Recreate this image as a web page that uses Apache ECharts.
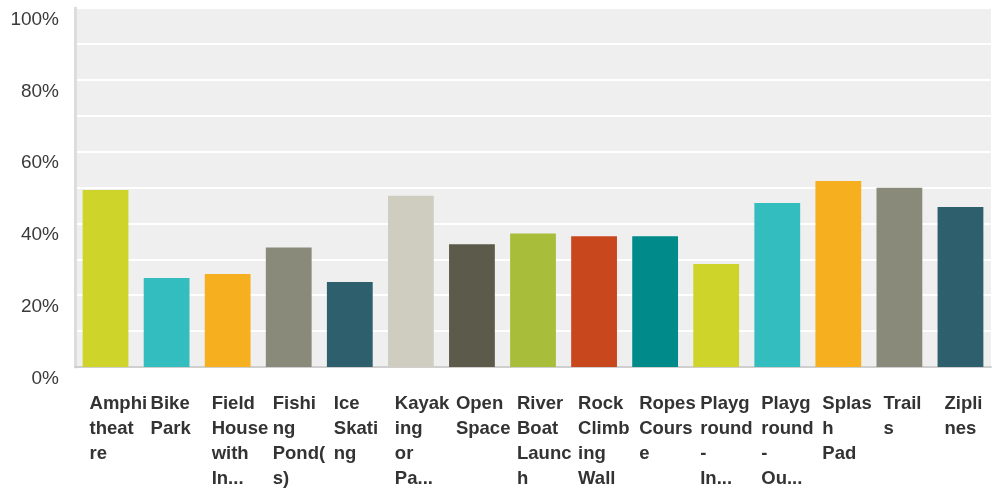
<!DOCTYPE html>
<html>
<head>
<meta charset="utf-8">
<script src="https://cdn.jsdelivr.net/npm/echarts@6/dist/echarts.min.js"></script>
<style>
  html, body { margin: 0; padding: 0; background: #fff; }
  #main { width: 992px; height: 491px; }
</style>
</head>
<body>
<div id="main"></div>
<script>
// categories as shown on the chart (long ones are cut off in the source)
var categories = [
  "Amphitheatre", "Bike Park", "Field House with In...", "Fishing Pond(s)",
  "Ice Skating", "Kayaking or Pa...", "Open Space", "River Boat Launch",
  "Rock Climbing Wall", "Ropes Course", "Playground - In...", "Playground - Ou...",
  "Splash Pad", "Trails", "Ziplines"
];
// tick labels, wrapped the way the source wraps them
var tickLabels = [
  "Amphi\ntheat\nre", "Bike\nPark", "Field\nHouse\nwith\nIn...", "Fishi\nng\nPond(\ns)",
  "Ice\nSkati\nng", "Kayak\ning\nor\nPa...", "Open\nSpace", "River\nBoat\nLaunc\nh",
  "Rock\nClimb\ning\nWall", "Ropes\nCours\ne", "Playg\nround\n-\nIn...", "Playg\nround\n-\nOu...",
  "Splas\nh\nPad", "Trail\ns", "Zipli\nnes"
];
var percents = [49.3, 24.8, 25.9, 33.3, 23.7, 47.7, 34.2, 37.2, 36.4, 36.4, 28.7, 45.7, 51.8, 49.9, 44.6];
var barColors = [
  "#cfd42a", "#33bdbf", "#f6af1f", "#8a8a7a", "#2e5f6d",
  "#cfcdc0", "#5c5a4b", "#a8bd3a", "#c8471d", "#008a8a",
  "#cfd42a", "#33bdbf", "#f6af1f", "#8a8a7a", "#2e5f6d"
];

var chart = echarts.init(document.getElementById("main"));
var option = {
  animation: false,
  grid: {
    left: 75,
    right: 1,
    top: 8,
    bottom: 120,
    show: true,
    backgroundColor: "#efefef",
    borderWidth: 0
  },
  xAxis: {
    type: "category",
    data: categories,
    axisLine: { show: true, lineStyle: { color: "#cfcfcf", width: 2 } },
    axisTick: { show: false },
    axisLabel: {
      interval: 0,
      align: "left",
      verticalAlign: "top",
      margin: 24,
      padding: [0, 0, 0, -16],
      fontFamily: "Liberation Sans, Arial, sans-serif",
      fontWeight: "bold",
      fontSize: 18.5,
      lineHeight: 25,
      color: "#333",
      formatter: function (v, i) { return tickLabels[i]; }
    }
  },
  yAxis: {
    type: "value",
    min: 0,
    max: 100,
    interval: 10,
    axisLine: { show: true, lineStyle: { color: "#dddddd", width: 3 } },
    axisTick: { show: false },
    splitLine: { show: true, lineStyle: { color: "#ffffff", width: 2 } },
    axisLabel: {
      margin: 16,
      verticalAlign: "top",
      padding: [2, 0, 0, 0],
      fontFamily: "Liberation Sans, Arial, sans-serif",
      fontSize: 19,
      color: "#3a3a3a",
      formatter: function (v) { return v % 20 === 0 ? v + "%" : ""; }
    }
  },
  series: [{
    type: "bar",
    barCategoryGap: "25%",
    data: percents.map(function (v, i) {
      return { value: v, itemStyle: { color: barColors[i] } };
    })
  }]
};
chart.setOption(option);
</script>
</body>
</html>
